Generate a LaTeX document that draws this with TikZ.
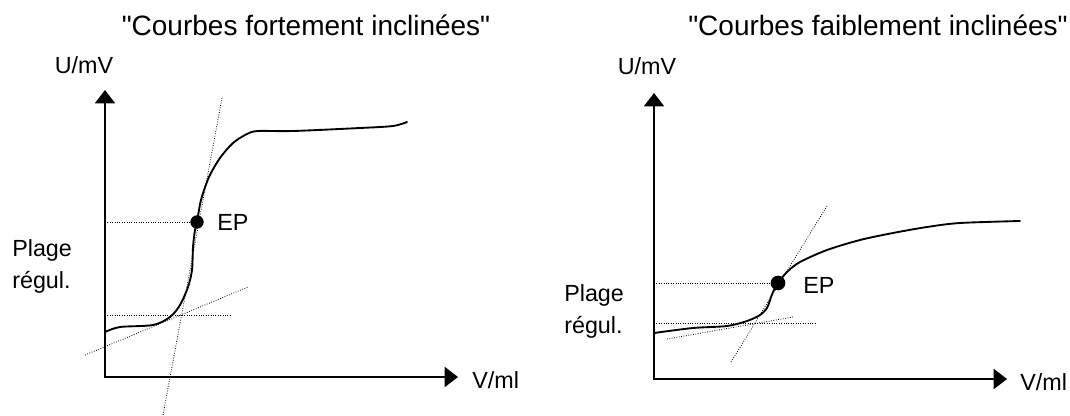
\documentclass[tikz,border=0pt]{standalone}
\usepackage{fontspec}
\setmainfont{Liberation Sans}
\usetikzlibrary{positioning, arrows.meta}
\tikzset{
  axis/.style={
    line width=1.5pt,
    {Triangle[length=10pt, width=15pt]}-{Triangle[length=10pt, width=15pt]}
  },
  courbe/.style={
    line width=1.4pt,
    line cap=round
  },
  aide/.style={
    line width=0.6pt,
    dash pattern=on 0.6pt off 1.2pt
  },
  point/.style={
    circle,
    fill=black,
    inner sep=0pt,
    minimum size=10pt
  },
  label/.style={
    inner sep=0pt,
    font=\fontsize{17.5pt}{24pt}\selectfont
  },
  titre/.style={
    inner sep=0pt,
    font=\fontsize{21pt}{25pt}\selectfont
  }
}

\begin{document}
\begin{tikzpicture}[x=0.75pt, y=-0.75pt]
      \useasboundingbox (0,0) rectangle (1070,415);

      % Titres
      \node[titre, anchor=base] (titreG) at (306,35) {\textquotedbl Courbes fortement inclinées\textquotedbl};
      \node[titre, anchor=base] (titreD) at (878,35) {\textquotedbl Courbes faiblement inclinées\textquotedbl};

      % Courbe gauche
      \coordinate (yG) at (105,90);
      \coordinate (oG) at (105,377);
      \coordinate (xG) at (458,377);
      \draw[axis] (yG) |- (xG);
      \node[label, anchor=base] (uG) at (84,73) {U/mV};
      \node[label, anchor=base west] (vG) at (472,388) {V/ml};
      \node[label, anchor=west, align=left] (plageG) at (12,266) {Plage\\régul.};

      \draw[aide] (222,98) -- (163,415);
      \draw[aide] (85,355) -- (248,287);
      \draw[aide] (oG |- 0,315) -- (230,315);
      \draw[aide] (oG |- 0,222) -- (197,222);

      \draw[courbe] plot[smooth, tension=0.5] coordinates {
        (105,332) (120,327) (153,325) (170,317) (180,305) (188,287)
        (192,270) (193,247) (195,230) (197,222) (201,200) (209,177)
        (220,158) (233,143) (247,134) (258,131) (293,131) (360,128)
        (393,126) (407,122)};
      \node[point] (epG) at (197,222) {};
      \node[label, anchor=west] (txtG) at (217,222) {EP};

      % Courbe droite
      \coordinate (yD) at (654,93);
      \coordinate (oD) at (654,379);
      \coordinate (xD) at (1007,379);
      \draw[axis] (yD) |- (xD);
      \node[label, anchor=base] (uD) at (647,74) {U/mV};
      \node[label, anchor=base west] (vD) at (1020,390) {V/ml};
      \node[label, anchor=west, align=left] (plageD) at (564,311) {Plage\\régul.};

      \draw[aide] (827,206) -- (731,362);
      \draw[aide] (667,339) -- (793,317);
      \draw[aide] (oD |- 0,323) -- (817,323);
      \draw[aide] (oD |- 0,283) -- (778,283);

      \draw[courbe] plot[smooth, tension=0.5] coordinates {
        (654,333) (693,328) (727,326) (747,321) (760,315) (767,308)
        (770,300) (773,292) (778,283) (787,272) (800,262) (827,250)
        (860,240) (893,233) (927,227) (960,223) (1020,221)};
      \node[point, minimum size=11pt] (epD) at (778,283) {};
      \node[label, anchor=west] (txtD) at (803,285) {EP};
\end{tikzpicture}
\end{document}
